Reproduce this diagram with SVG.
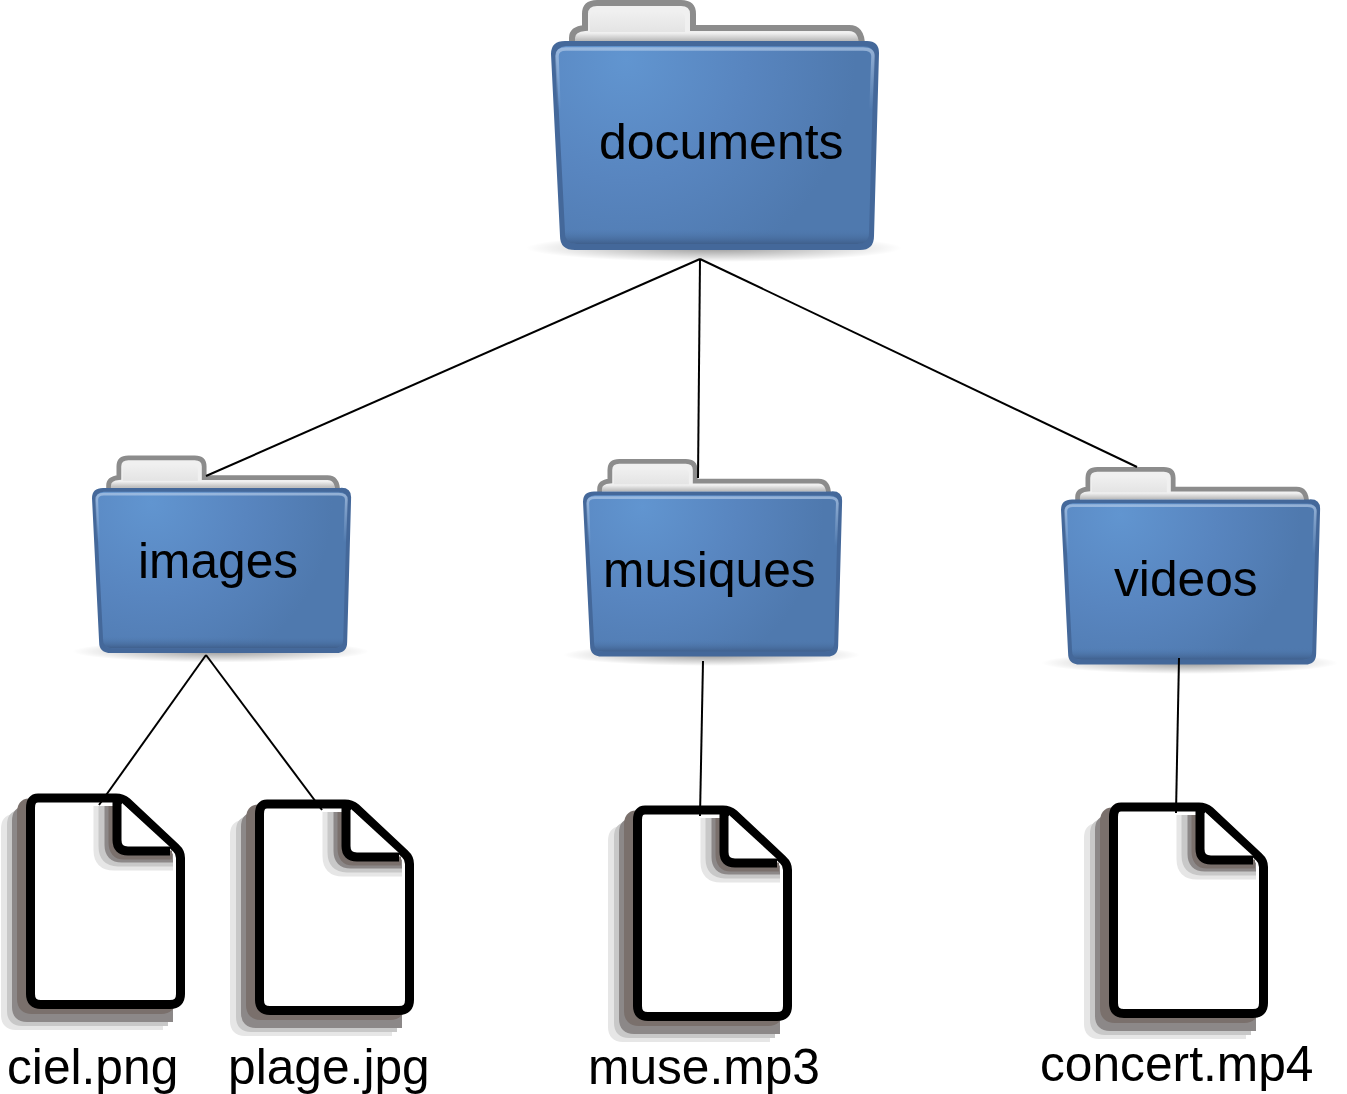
<svg xmlns="http://www.w3.org/2000/svg" width="1347" height="1094" viewBox="0 0 1347 1094">
<style>
text{font-family:"Liberation Sans",Arial,sans-serif;font-size:49.700px;fill:#000}
.big{font-size:50px}
.c line{stroke:#000;stroke-width:2;fill:none}
.page{stroke-linejoin:round;stroke-width:9}
.fold{fill:none;stroke-width:9}
</style>
<defs>
<radialGradient id="blue" gradientUnits="userSpaceOnUse" cx="75" cy="60" r="270">
<stop offset="0" stop-color="#6195d0"/><stop offset=".45" stop-color="#5885bf"/><stop offset=".85" stop-color="#4f79ae"/><stop offset="1" stop-color="#4f79ae"/>
</radialGradient>
<linearGradient id="botband" x1="0" y1="0" x2="0" y2="1">
<stop offset="0" stop-color="#4f79ae" stop-opacity="0"/><stop offset="1" stop-color="#3f5f8c"/>
</linearGradient>
<linearGradient id="paper" x1="0" y1="0" x2="0" y2="1">
<stop offset="0" stop-color="#f0f0f0"/><stop offset="1" stop-color="#e4e4e4"/>
</linearGradient>
<linearGradient id="backfade" x1="0" y1="0" x2="0" y2="1">
<stop offset="0" stop-color="#888" stop-opacity="0"/><stop offset="1" stop-color="#888" stop-opacity=".55"/>
</linearGradient>
<linearGradient id="rim" gradientUnits="userSpaceOnUse" x1="0" y1="46" x2="0" y2="110">
<stop offset="0" stop-color="#b4cbe8" stop-opacity=".7"/><stop offset="1" stop-color="#b4cbe8" stop-opacity="0"/>
</linearGradient>
<radialGradient id="shadow" cx=".5" cy=".5" r=".5">
<stop offset="0" stop-color="#000" stop-opacity=".4"/><stop offset=".7" stop-color="#000" stop-opacity=".12"/><stop offset="1" stop-color="#000" stop-opacity="0"/>
</radialGradient>
<symbol id="folder" overflow="visible">
<ellipse cx="163" cy="248" rx="188" ry="14" fill="url(#shadow)"/>
<path d="M21,46 V38 Q21,29 34,28 V14 Q34,3 46,3 H130 Q142,3 142,14 V28 H298 Q311,28 311,46 Z" fill="#f0f0f0" stroke="#8c8c8c" stroke-width="6"/>
<path d="M39,30 V18 Q39,11 47,11 H124 Q134,11 134,18 V32 H39Z" fill="url(#paper)"/>
<rect x="24" y="33" width="284" height="8" fill="url(#backfade)"/>
<path d="M0,54 Q0,41 14,41 H314 Q328,40 328,53 L323,236 Q323,250 309,250 H24 Q9,250 9,236 Z" fill="#44689a"/>
<path d="M5,56 Q5,47 15,46 H312 Q323,46 323,56 L318,232 Q318,244 306,244 H26 Q14,244 14,232 Z" fill="url(#blue)"/>
<path d="M13,229 H319 L318,234 Q318,244 306,244 H26 Q14,244 14,234 Z" fill="url(#botband)"/>
<path d="M8,110 L6,56 Q6,49 15,49 H312 Q322,49 322,56 L320,110" fill="none" stroke="url(#rim)" stroke-width="3.500"/>
</symbol>
<path id="pg" d="M38,798 H116 Q122,798 127,802 L176,848 Q180.500,852 180.500,858 V994 Q180.500,1004.500 170,1004.500 H41 Q30.500,1004.500 30.500,994 V808 Q30.500,798 38,798Z"/>
<symbol id="file" overflow="visible">
<g class="page">
<use href="#pg" transform="translate(-25,21)" fill="#e6e6e6" stroke="#e6e6e6"/>
<rect x="120" y="1000" width="43" height="30" fill="#e6e6e6" stroke="none"/>
<use href="#pg" transform="translate(-19,17)" fill="#c8c8c8" stroke="#c8c8c8"/>
<rect x="120" y="1000" width="48" height="26" fill="#c8c8c8" stroke="none"/>
<use href="#pg" transform="translate(-14,13)" fill="#8c8888" stroke="#8c8888"/>
<rect x="120" y="1000" width="53" height="22" fill="#8c8888" stroke="none"/>
<use href="#pg" transform="translate(-9,5)" fill="#7a706c" stroke="#7a706c"/>
<use href="#pg" fill="#fff" stroke="#000"/>
</g>
<g class="fold">
<path d="M98,806 V850 Q98,866 114,866 H173" stroke="#e6e6e6"/>
<path d="M103,806 V846 Q103,862 118,862 H173" stroke="#c8c8c8"/>
<path d="M109,806 V845 Q109,858 122,858 H173" stroke="#8c8888"/>
<path d="M113,806 V842 Q113,855 124,855 H172" stroke="#7a706c"/>
</g>
<path d="M122,803 L170,847 H128 Q122,847 122,841Z" fill="#fff"/>
<path d="M117,800 V840 Q117,851 128,851 H170" fill="none" stroke="#000" stroke-width="9"/>
</symbol>
</defs>
<g id="folder-documents"><use href="#folder" x="551" y="0"/><text class="big" x="599" y="158.500">documents</text></g>
<g id="folder-images"><use href="#folder" transform="translate(92,455.500) scale(.79)"/><text x="138" y="578">images</text></g>
<g id="folder-musiques"><use href="#folder" transform="translate(583,459) scale(.79)"/><text x="603" y="587">musiques</text></g>
<g id="folder-videos"><use href="#folder" transform="translate(1061,467) scale(.79)"/><text x="1114" y="596">videos</text></g>
<g id="file-ciel"><use href="#file"/><text x="7" y="1084">ciel.png</text></g>
<g id="file-plage"><use href="#file" transform="translate(229,6)"/><text x="228" y="1084">plage.jpg</text></g>
<g id="file-muse"><use href="#file" transform="translate(607,12)"/><text x="588" y="1084">muse.mp3</text></g>
<g id="file-concert"><use href="#file" transform="translate(1083,9)"/><text x="1040" y="1081">concert.mp4</text></g>
<g id="connectors" class="c">
<line x1="700" y1="259" x2="206" y2="476"/>
<line x1="700" y1="259" x2="698" y2="478"/>
<line x1="700" y1="259" x2="1137" y2="467"/>
<line x1="206" y1="655" x2="99" y2="805"/>
<line x1="206" y1="655" x2="322" y2="810"/>
<line x1="703" y1="661" x2="700" y2="816"/>
<line x1="1179" y1="658" x2="1176" y2="813"/>
</g>
</svg>
